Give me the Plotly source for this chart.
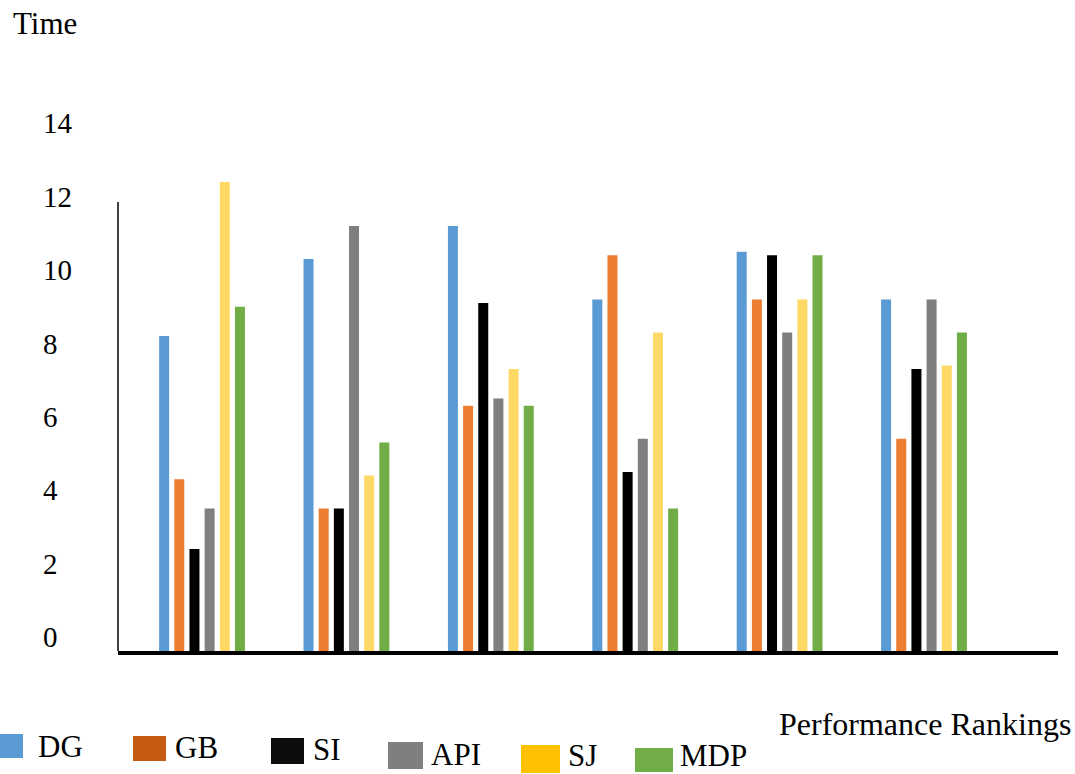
import plotly.graph_objects as go

# ---- data ----
ranks = [1, 2, 3, 4, 5, 6]
series_names = ["DG", "GB", "SI", "API", "SJ", "MDP"]
dg = [8.2, 10.3, 11.2, 9.2, 10.5, 9.2]
gb = [4.3, 3.5, 6.3, 10.4, 9.2, 5.4]
si = [2.4, 3.5, 9.1, 4.5, 10.4, 7.3]
api = [3.5, 11.2, 6.5, 5.4, 8.3, 9.2]
sj = [12.4, 4.4, 7.3, 8.3, 9.2, 7.4]
mdp = [9.0, 5.3, 6.3, 3.5, 10.4, 8.3]
y_tick_values = [0, 2, 4, 6, 8, 10, 12, 14]
y_tick_labels = ["0\u2007", "2\u2007", "4\u2007", "6\u2007", "8\u2007", "10", "12", "14"]

series_values = [dg, gb, si, api, sj, mdp]
bar_colors = ["#5B9BD5", "#ED7D31", "#000000", "#7F7F7F", "#FFD966", "#70AD47"]
legend_colors = ["#5B9BD5", "#C55A11", "#0D0D0D", "#7F7F7F", "#FFC000", "#70AD47"]

FONT = "Liberation Serif, Times New Roman, serif"
W, H = 1075, 774
ML, MR, MT, MB = 118, 17, 110, 123
PW, PH = W - ML - MR, H - MT - MB
BASE = -0.38          # bars are drawn up from the x-axis line, just below 0
Y_TOP = 14.36

def px_x(px):
    return (px - ML) / PW

def px_y(py):
    return (H - MB - py) / PH

fig = go.Figure()
for name, vals, color in zip(series_names, series_values, bar_colors):
    fig.add_bar(
        x=ranks,
        y=[v - BASE for v in vals],
        base=BASE,
        name=name,
        customdata=vals,
        hovertemplate=name + ": %{customdata}<extra></extra>",
        marker=dict(color=color, line=dict(width=0)),
        showlegend=False,
    )

fig.update_layout(
    width=W, height=H,
    margin=dict(l=ML, r=MR, t=MT, b=MB),
    paper_bgcolor="white", plot_bgcolor="white",
    barmode="group", bargap=0.37, bargroupgap=0.34,
    font=dict(family=FONT, size=30, color="black"),
    xaxis=dict(range=[0.418, 6.928], showticklabels=False, ticks="",
               showgrid=False, zeroline=False, showline=True,
               linecolor="black", linewidth=4),
    yaxis=dict(range=[BASE, Y_TOP], tickvals=y_tick_values, ticktext=y_tick_labels,
               ticks="", showgrid=False, zeroline=False, showline=False,
               ticklabelstandoff=45,
               tickfont=dict(family=FONT, size=29, color="black")),
)

# vertical axis line (shorter than the plot height)
fig.add_shape(type="line", xref="paper", yref="y", x0=0, x1=0, y0=BASE, y1=11.85,
              line=dict(color="#404040", width=2))

# axis titles
fig.add_annotation(text="Time", xref="paper", yref="paper", x=px_x(11), y=px_y(24),
                   xanchor="left", yanchor="middle", showarrow=False,
                   font=dict(family=FONT, size=31, color="black"))
fig.add_annotation(text="Performance Rankings", xref="paper", yref="paper",
                   x=px_x(777), y=px_y(724), xanchor="left", yanchor="middle",
                   showarrow=False, font=dict(family=FONT, size=32, color="black"))

# legend (staggered, as in the original)
legend_layout = [
    (0, 23, 734, 758, 36, 746),
    (133, 166, 736, 761, 173, 747),
    (271, 304, 738, 764, 311, 749),
    (388, 423, 742, 769, 429, 754),
    (521, 560, 745, 773, 566, 755),
    (635, 673, 748, 772, 678, 755),
]
for name, color, (sx0, sx1, sy0, sy1, tx, ty) in zip(series_names, legend_colors, legend_layout):
    fig.add_shape(type="rect", xref="paper", yref="paper",
                  x0=px_x(sx0), x1=px_x(sx1), y0=px_y(sy1), y1=px_y(sy0),
                  fillcolor=color, line=dict(width=0))
    fig.add_annotation(text=name, xref="paper", yref="paper", x=px_x(tx), y=px_y(ty),
                       xanchor="left", yanchor="middle", showarrow=False,
                       font=dict(family=FONT, size=31, color="black"))

fig.write_html("out.html", config={"displayModeBar": False},
               post_script="document.body.style.margin='0';document.body.style.overflow='hidden';")
